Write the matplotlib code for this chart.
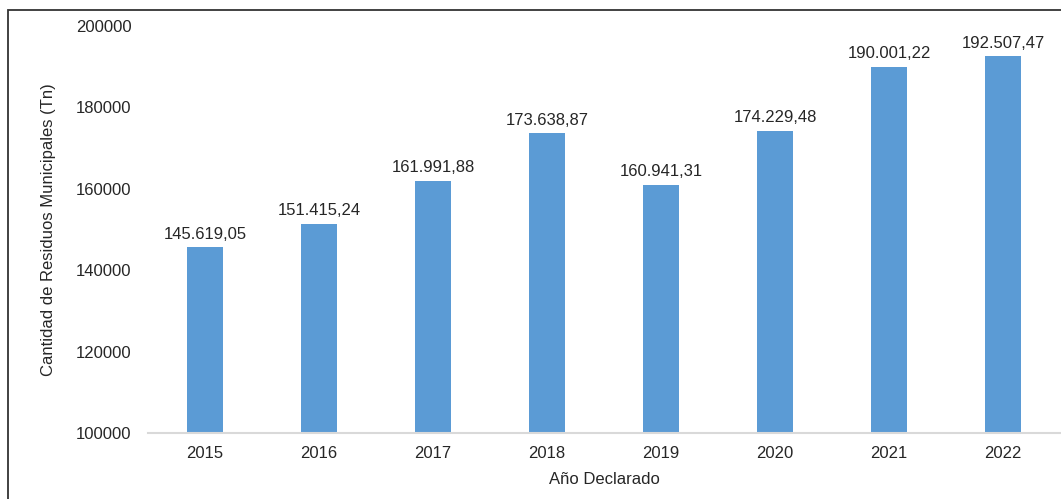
import matplotlib
matplotlib.use("Agg")
import matplotlib.pyplot as plt
from matplotlib.patches import Rectangle

years = ["2015", "2016", "2017", "2018", "2019", "2020", "2021", "2022"]
values = [145619.05, 151415.24, 161991.88, 173638.87,
          160941.31, 174229.48, 190001.22, 192507.47]
yticks = [100000, 120000, 140000, 160000, 180000, 200000]

plt.rcParams['font.family'] = ['Liberation Sans', 'DejaVu Sans']
text_col = '#262626'

def fmt(v):
    s = "{:,.2f}".format(v)
    return s.replace(",", "X").replace(".", ",").replace("X", ".")

dpi = 100.0
fig = plt.figure(figsize=(1061/dpi, 499/dpi), dpi=dpi, facecolor="white")

# outer frame (only left and top visible in the reference)
fig.patches.append(Rectangle((8/1061, -0.1), 1.2, (499-10)/499 + 0.1,
                             transform=fig.transFigure, fill=False,
                             ec='#333333', lw=1.3))

ax = fig.add_axes([148/1061, 66/499, 912/1061, 407/499])
x = range(len(years))
bars = ax.bar(x, values, width=0.315, color='#5B9BD5', zorder=2)

for i, v in enumerate(values):
    ax.annotate(fmt(v), (i, v), xytext=(0, 4), textcoords='offset points',
                ha='center', va='bottom', fontsize=12, color=text_col)

ax.set_xlim(-0.5, len(years) - 0.5)
ax.set_ylim(100000, 200000)
ax.set_yticks(yticks)
ax.set_yticklabels([str(t) for t in yticks])
ax.set_xticks(list(x))
ax.set_xticklabels(years)
ax.tick_params(axis='y', length=0, pad=12, labelsize=12, labelcolor=text_col)
ax.tick_params(axis='x', length=0, pad=9, labelsize=12, labelcolor=text_col)

for s in ['top', 'right', 'left']:
    ax.spines[s].set_visible(False)
ax.spines['bottom'].set_color('#D9D9D9')
ax.spines['bottom'].set_linewidth(1.5)

ax.set_xlabel("Año Declarado", fontsize=12, color=text_col, labelpad=8)
ax.set_ylabel("Cantidad de Residuos Municipales (Tn)", fontsize=12,
              color=text_col, labelpad=14)

fig.savefig("out.png", dpi=dpi)
